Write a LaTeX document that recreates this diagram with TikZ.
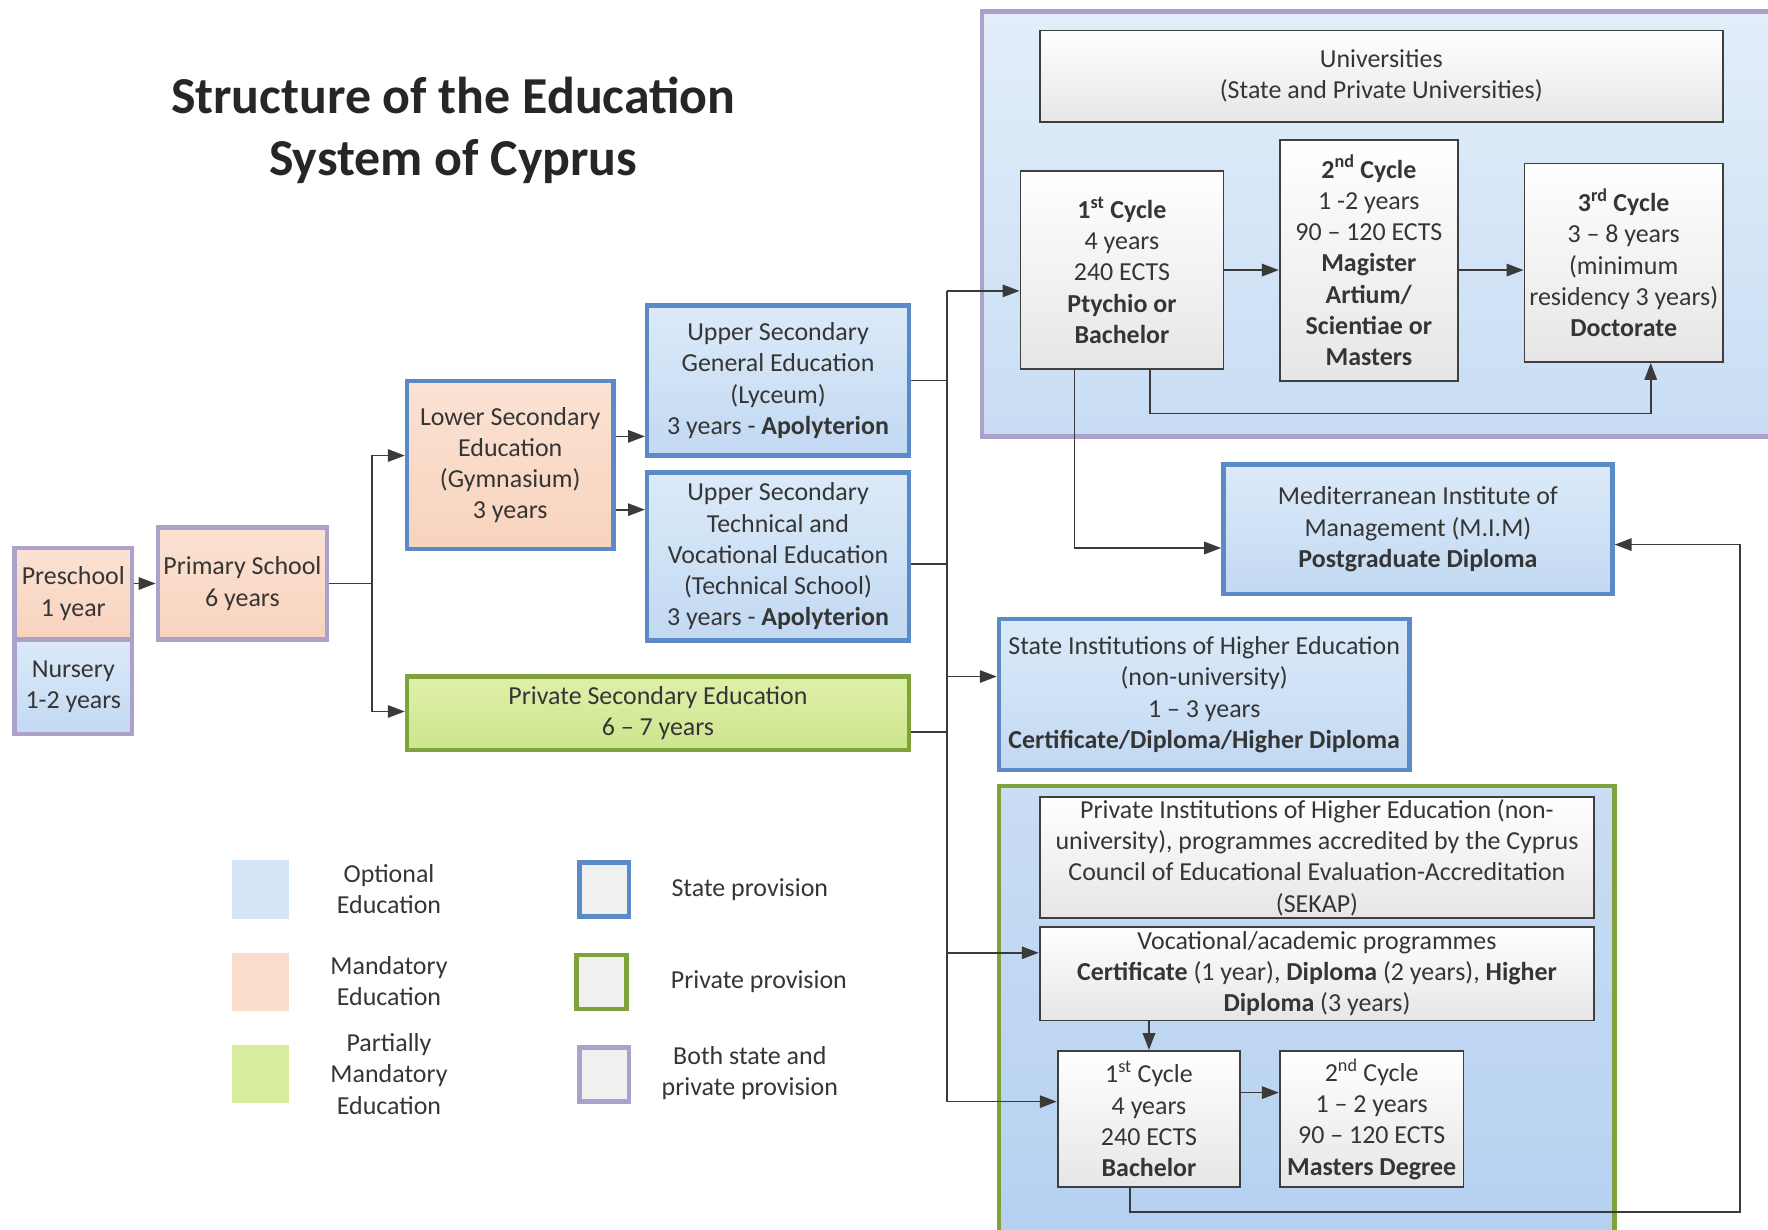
\documentclass[tikz,border=0pt]{standalone}
\usepackage{fontspec}
\setmainfont{Carlito}
\usetikzlibrary{arrows.meta}

\definecolor{ink}{HTML}{353535}
\definecolor{wire}{HTML}{3A3A3A}
\definecolor{stateblue}{HTML}{5B8BC6}
\definecolor{olivegreen}{HTML}{7FA33A}
\definecolor{lilac}{HTML}{ABA1CB}
\definecolor{frame}{HTML}{3F3F3F}
\definecolor{blueTop}{HTML}{DCEAF9}
\definecolor{blueBot}{HTML}{C2D9F2}
\definecolor{orTop}{HTML}{FBE2D3}
\definecolor{orBot}{HTML}{F8D3BD}
\definecolor{grTop}{HTML}{DFF0A9}
\definecolor{grBot}{HTML}{CDE58E}
\definecolor{uniTop}{HTML}{E3EEFA}
\definecolor{uniBot}{HTML}{C8DDF4}
\definecolor{privTop}{HTML}{C9DDF4}
\definecolor{privBot}{HTML}{B4D0F0}
\definecolor{grayBot}{HTML}{E6E6E6}

\begin{document}
\begin{tikzpicture}[x=1pt,y=-1pt,
  box/.style={rectangle, align=center, inner sep=0pt,
    font=\fontsize{23}{27.7}\selectfont, text=ink},
  statebox/.style={box, draw=stateblue, line width=4pt, top color=blueTop, bottom color=blueBot},
  statemand/.style={box, draw=stateblue, line width=4pt, top color=orTop, bottom color=orBot},
  bothmand/.style={box, draw=lilac, line width=4pt, top color=orTop, bottom color=orBot},
  bothopt/.style={box, draw=lilac, line width=4pt, top color=blueTop, bottom color=blueBot},
  privpart/.style={box, draw=olivegreen, line width=4pt, top color=grTop, bottom color=grBot},
  whitebox/.style={box, draw=frame, line width=1.6pt, top color=white, bottom color=grayBot},
  swatch/.style={rectangle, minimum width=50pt, minimum height=52pt, inner sep=0pt},
  keybox/.style={rectangle, minimum width=44pt, minimum height=48pt, inner sep=0pt,
    line width=4pt, fill=white!94!black},
  keytext/.style={box},
  link/.style={draw=wire, line width=1.5pt},
  arr/.style={draw=wire, line width=1.5pt, -{Triangle[length=15pt,width=11pt]}},
]
\useasboundingbox (0,0) rectangle (1568,1090);
\clip (0,0) rectangle (1568,1090);
\fill[white] (0,0) rectangle (1568,1090);

% title
\node[font=\fontsize{46}{55}\selectfont\bfseries, text=black!85, align=center] (title) at (402,115.5)
  {Structure of the Education\\System of Cyprus};

% pre-primary and primary
\node[bothmand, minimum width=104pt, minimum height=81pt] (pre) at (65,526.5) {Preschool\\1 year};
\node[bothopt, minimum width=104pt, minimum height=84pt] (nur) at (65,609) {Nursery\\1-2 years};
\node[bothmand, minimum width=150pt, minimum height=99pt] (prim) at (215,517.5) {Primary School\\6 years};

% secondary
\node[statemand, minimum width=183pt, minimum height=149pt] (lower) at (452.5,412.5)
  {Lower Secondary\\Education\\(Gymnasium)\\3 years};
\node[statebox, minimum width=232pt, minimum height=133pt] (usg) at (690,337.5)
  {Upper Secondary\\General Education\\(Lyceum)\\3 years - \textbf{Apolyterion}};
\node[statebox, minimum width=232pt, minimum height=149pt] (ust) at (690,493.5)
  {Upper Secondary\\Technical and\\Vocational Education\\(Technical School)\\3 years - \textbf{Apolyterion}};
\node[privpart, minimum width=445pt, minimum height=65pt] (psec) at (583.5,632.5)
  {Private Secondary Education\\6 – 7 years};

% universities
\node[box, draw=lilac, line width=4pt, top color=uniTop, bottom color=uniBot,
  minimum width=738pt, minimum height=377pt] (uni) at (1240,198.5) {};
\node[whitebox, minimum width=606pt, minimum height=81pt] (unihead) at (1225,67.5)
  {Universities\\(State and Private Universities)};
\node[whitebox, minimum width=180pt, minimum height=175pt] (c1) at (995,239.5)
  {\textbf{1\textsuperscript{st} Cycle}\\4 years\\240 ECTS\\\textbf{Ptychio or}\\\textbf{Bachelor}};
\node[whitebox, minimum width=158pt, minimum height=214pt] (c2) at (1214,231)
  {\textbf{2\textsuperscript{nd} Cycle}\\1 -2 years\\90 – 120 ECTS\\\textbf{Magister}\\\textbf{Artium/}\\\textbf{Scientiae or}\\\textbf{Masters}};
\node[whitebox, minimum width=176pt, minimum height=176pt] (c3) at (1440,233)
  {\textbf{3\textsuperscript{rd} Cycle}\\3 – 8 years\\(minimum\\residency 3 years)\\\textbf{Doctorate}};

% M.I.M and state non-university
\node[statebox, minimum width=345pt, minimum height=115pt] (mim) at (1257.5,469.5)
  {Mediterranean Institute of\\Management (M.I.M)\\\textbf{Postgraduate Diploma}};
\node[statebox, minimum width=364pt, minimum height=134pt] (sihe) at (1068,616)
  {State Institutions of Higher Education\\(non-university)\\1 – 3 years\\\textbf{Certificate/Diploma/Higher Diploma}};

% private non-university
\node[box, draw=olivegreen, line width=4pt, top color=privTop, bottom color=privBot,
  minimum width=546pt, minimum height=426pt] (priv) at (1159,910) {};
\node[whitebox, minimum width=492pt, minimum height=107pt] (pihe) at (1168,760.5)
  {Private Institutions of Higher Education (non-\\university), programmes accredited by the Cyprus\\Council of Educational Evaluation-Accreditation\\(SEKAP)};
\node[whitebox, minimum width=492pt, minimum height=83pt] (voc) at (1168,863.5)
  {Vocational/academic programmes\\\textbf{Certificate} (1 year), \textbf{Diploma} (2 years), \textbf{Higher}\\\textbf{Diploma} (3 years)};
\node[whitebox, minimum width=162pt, minimum height=121pt] (pc1) at (1019,992.5)
  {1\textsuperscript{st} Cycle\\4 years\\240 ECTS\\\textbf{Bachelor}};
\node[whitebox, minimum width=163pt, minimum height=121pt] (pc2) at (1216.5,992.5)
  {2\textsuperscript{nd} Cycle\\1 – 2 years\\90 – 120 ECTS\\\textbf{Masters Degree}};

% key
\node[swatch, fill=blueTop!70!blueBot] (kopt) at (231,789) {};
\node[swatch, fill=orTop!60!orBot] (kmand) at (231,871) {};
\node[swatch, fill=grTop!60!grBot] (kpart) at (231,952.5) {};
\node[keytext] (topt) at (345,788.5) {Optional\\Education};
\node[keytext] (tmand) at (345,870) {Mandatory\\Education};
\node[keytext] (tpart) at (345,952.5) {Partially\\Mandatory\\Education};
\node[keybox, draw=stateblue] (kstate) at (536,789) {};
\node[keybox, draw=olivegreen] (kpriv) at (533.5,871) {};
\node[keybox, draw=lilac] (kboth) at (536,953) {};
\node[keytext] (tstate) at (665,789) {State provision};
\node[keytext] (tpriv) at (673,871) {Private provision};
\node[keytext] (tboth) at (665,952) {Both state and\\private provision};

% junctions
\coordinate (b1) at (330,517.5);
\coordinate (spT) at (840,258);
\coordinate (spB) at (840,977);
\coordinate (rt) at (1543,1075);

% primary and secondary flow
\draw[arr] (pre.east |- prim.west) -- (prim.west);
\draw[link] (prim.east) -- (b1);
\draw[arr] (b1) |- ([yshift=8.5pt]lower.west);
\draw[arr] (b1) |- ([yshift=1.5pt]psec.west);
\draw[arr] ([yshift=25.5pt]lower.east) -- ([yshift=25.5pt]lower.east -| usg.west);
\draw[arr] ([yshift=-39.5pt]lower.east) -- ([yshift=-39.5pt]lower.east -| ust.west);

% secondary to higher education
\draw[link] (usg.east) -- (usg.east -| spT);
\draw[link] ([yshift=-6.5pt]ust.east) -- ([yshift=-6.5pt]ust.east -| spT);
\draw[link] ([yshift=-16.5pt]psec.east) -- ([yshift=-16.5pt]psec.east -| spT);
\draw[link] (spT) -- (spB);
\draw[arr] (spT) -- (spT -| c1.west);
\draw[arr] ([yshift=16pt]sihe.west -| spT) -- ([yshift=16pt]sihe.west);
\draw[arr] ([yshift=18.5pt]voc.west -| spT) -- ([yshift=18.5pt]voc.west);
\draw[arr] (spB) -- (spB -| pc1.west);

% university cycles
\draw[arr] (c1.east) -- (c1.east -| c2.west);
\draw[arr] (c1.east -| c2.east) -- (c1.east -| c3.west);
\draw[arr] ([xshift=25pt]c1.south) -- ++(0,39) -| ([xshift=24pt]c3.south);
\draw[arr] ([xshift=-42pt]c1.south) |- ([yshift=-16.5pt]mim.west);

% private non-university cycles
\draw[arr] (voc.south -| pc1.north) -- (pc1.north);
\draw[arr] ([yshift=23.5pt]pc1.east) -- ([yshift=23.5pt]pc1.east -| pc2.west);
\draw[arr] ([xshift=-17pt]pc1.south) |- (rt) |- ([yshift=-13.5pt]mim.east);
\end{tikzpicture}
\end{document}
